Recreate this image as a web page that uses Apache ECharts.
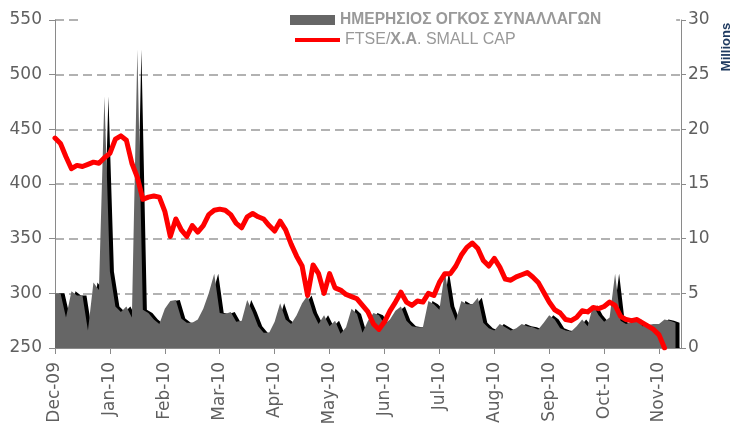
<!DOCTYPE html>
<html>
<head>
<meta charset="utf-8">
<script src="https://cdn.jsdelivr.net/npm/echarts@6/dist/echarts.min.js"></script>
<style>
  html, body { margin: 0; padding: 0; background: #fff; }
  #smallCapChart { width: 730px; height: 428px; }
</style>
</head>
<body>
<div id="smallCapChart"></div>
<script>
  // month labels, 10 points per month on the axis
  const months = ['Dec-09', 'Jan-10', 'Feb-10', 'Mar-10', 'Apr-10', 'May-10',
    'Jun-10', 'Jul-10', 'Aug-10', 'Sep-10', 'Oct-10', 'Nov-10'];
  const pointsPerMonth = 10;

  const volumeName = 'ΗΜΕΡΗΣΙΟΣ ΟΓΚΟΣ ΣΥΝΑΛΛΑΓΩΝ';
  const indexName = 'FTSE/Χ.Α. SMALL CAP';

  // daily volume, millions (right axis)
  const volume = [
    5.0, 5.0, 2.8, 5.2, 4.8, 4.8, 1.6, 6.0, 5.3, 23.0,
    7.0, 3.8, 3.3, 3.8, 2.8, 27.3, 3.5, 3.2, 2.6, 2.2,
    3.6, 4.3, 4.4, 2.7, 2.3, 2.3, 2.6, 3.6, 5.0, 6.8,
    3.2, 3.1, 3.3, 2.4, 2.5, 4.4, 3.3, 2.0, 1.4, 1.4,
    2.4, 4.1, 2.6, 2.2, 3.0, 4.1, 4.8, 3.2, 2.2, 3.0,
    2.0, 2.5, 1.3, 1.9, 3.6, 3.1, 1.4, 2.5, 3.2, 3.0,
    2.2, 2.6, 3.4, 3.8, 2.5, 2.0, 1.9, 1.9, 4.3, 4.0,
    3.5, 7.0, 3.8, 2.5, 4.3, 4.0, 4.0, 4.6, 2.3, 1.8,
    1.6, 2.2, 1.9, 1.6, 1.8, 2.2, 2.0, 1.9, 1.7, 2.3,
    3.0, 2.6, 1.8, 1.6, 1.5, 2.0, 2.6, 2.0, 3.9, 3.0,
    2.4, 2.8, 6.8, 2.5, 2.2, 2.4, 2.6, 2.0, 2.1, 2.2,
    2.2, 2.6, 2.5, 2.3, null
  ];

  // FTSE/X.A. small cap index (left axis)
  const smallCap = [
    442, 437, 425, 414, 417, 416, 418, 420, 419, 424,
    428, 441, 444, 440, 419, 406, 386, 388, 389, 388,
    375, 352, 368, 358, 352, 362, 356, 362, 372, 376,
    377, 376, 372, 364, 360, 370, 373, 370, 368, 362,
    357, 366, 358, 345, 334, 325, 298, 326, 318, 300,
    318, 305, 303, 299, 297, 295, 289, 283, 272, 267,
    274, 284, 292, 301, 292, 289, 293, 292, 300, 298,
    310, 318, 318, 325, 335, 342, 346, 341, 330, 325,
    332, 324, 313, 312, 315, 317, 319, 315, 310, 301,
    292, 285, 282, 276, 275, 278, 284, 283, 287, 286,
    288, 292, 289, 279, 276, 275, 276, 273, 270, 267,
    262, 250, null, null, null
  ];

  const leftTicks = { min: 250, max: 550, step: 50 };
  const rightTicks = { min: 0, max: 30, step: 5 };

  const categories = [];
  for (let i = 0; i < volume.length; i++) {
    categories.push(months[Math.floor(i / pointsPerMonth)] + '/' + (i % pointsPerMonth));
  }

  const axisGray = '#8a8a8a';
  const labelGray = '#5f5f5f';
  const numFont = 'DejaVu Sans';

  const option = {
    animation: false,
    backgroundColor: '#fff',
    grid: { left: 55, right: 49, top: 20, bottom: 80 },
    legend: [
      {
        data: [volumeName],
        // white box hides the top gridline behind the legend
        left: 80,
        top: 9,
        padding: [3, 75, 3, 210],
        backgroundColor: '#ffffff',
        icon: 'rect',
        itemWidth: 45,
        itemHeight: 10,
        selectedMode: false,
        itemStyle: { color: '#666666', borderWidth: 0 },
        textStyle: { fontFamily: 'Liberation Sans', fontWeight: 'bold', fontSize: 15.6, color: '#999999' }
      },
      {
        data: [indexName],
        left: 290,
        top: 27,
        icon: 'rect',
        itemWidth: 45,
        itemHeight: 4,
        selectedMode: false,
        itemStyle: { color: '#ff0000', borderWidth: 0 },
        formatter: function () {
          return '{a|FTSE/}{b|Χ.Α}{a|. SMALL CAP}';
        },
        textStyle: {
          fontSize: 16,
          color: '#999999',
          rich: {
            a: { fontFamily: 'Liberation Sans', fontSize: 16, color: '#999999' },
            b: { fontFamily: 'Liberation Sans', fontSize: 16, fontWeight: 'bold', color: '#999999' }
          }
        }
      }
    ],
    xAxis: {
      type: 'category',
      data: categories,
      boundaryGap: false,
      axisLine: { show: true, lineStyle: { color: axisGray, width: 1 } },
      axisTick: { show: true, interval: pointsPerMonth - 1, length: 6, lineStyle: { color: axisGray } },
      axisLabel: {
        interval: pointsPerMonth - 1,
        rotate: 90,
        margin: 14,
        fontFamily: numFont,
        fontSize: 17,
        color: labelGray,
        formatter: function (v) { return v.split('/')[0]; }
      },
      splitLine: { show: false }
    },
    yAxis: [
      {
        type: 'value',
        position: 'left',
        min: leftTicks.min,
        max: leftTicks.max,
        interval: leftTicks.step,
        axisLine: { show: true, lineStyle: { color: axisGray, width: 1 } },
        axisTick: { show: true, length: 6, lineStyle: { color: axisGray } },
        axisLabel: { margin: 13, fontFamily: numFont, fontSize: 17, color: labelGray },
        splitLine: { show: true, lineStyle: { color: '#999999', width: 1.5, type: [9, 5] } }
      },
      {
        type: 'value',
        position: 'right',
        min: rightTicks.min,
        max: rightTicks.max,
        interval: rightTicks.step,
        axisLine: { show: true, lineStyle: { color: axisGray, width: 1 } },
        axisTick: { show: true, length: 5, lineStyle: { color: axisGray } },
        axisLabel: { margin: 7, fontFamily: numFont, fontSize: 17, color: labelGray },
        splitLine: { show: false }
      }
    ],
    graphic: [
      {
        type: 'text',
        x: 726,
        y: 47,
        rotation: Math.PI / 2,
        style: {
          text: 'Millions',
          fill: '#1f3a60',
          fontFamily: 'Liberation Sans',
          fontWeight: 'bold',
          fontSize: 13,
          align: 'center',
          verticalAlign: 'middle'
        }
      }
    ],
    series: [
      {
        name: volumeName,
        type: 'line',
        yAxisIndex: 1,
        data: volume,
        color: '#666666',
        symbol: 'none',
        z: 2,
        lineStyle: { width: 0 },
        // black offset shadow gives the 3d edge on the right of the peaks
        areaStyle: { color: '#666666', opacity: 1, shadowColor: '#000000', shadowBlur: 0, shadowOffsetX: 4 }
      },
      {
        name: indexName,
        type: 'line',
        yAxisIndex: 0,
        data: smallCap,
        color: '#ff0000',
        symbol: 'none',
        z: 3,
        lineStyle: { width: 5, color: '#ff0000', cap: 'round', join: 'round' }
      }
    ]
  };

  echarts.init(document.getElementById('smallCapChart')).setOption(option);
</script>
</body>
</html>
